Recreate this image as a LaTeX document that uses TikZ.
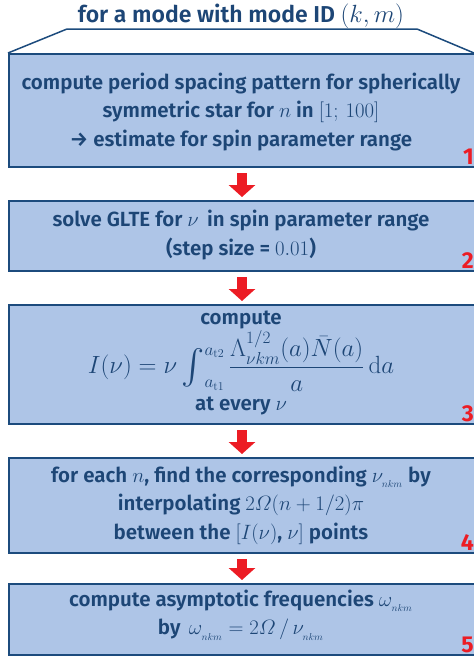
\documentclass[tikz,border=0pt]{standalone}
\usepackage{amsmath}
\usepackage{graphicx}
\usepackage[no-math]{fontspec}
\setmainfont{Fira Sans}[UprightFont={* SemiBold}, BoldFont={* Bold}]
\usetikzlibrary{arrows.meta,calc}
\definecolor{boxfill}{HTML}{AEC5E7}
\definecolor{boxline}{HTML}{1C4B7D}
\definecolor{txt}{HTML}{1D4676}
\definecolor{myred}{HTML}{EC1C24}
\newcommand{\myint}{\mathop{\vcenter{\hbox{\scalebox{1.4}{$\textstyle\int$}}}}\nolimits}
\tikzset{
 stepbox/.style={fill=boxfill, draw=boxline, line width=2pt, minimum width=480pt, anchor=north west, inner sep=0pt},
 steptext/.style={text=txt, align=center, font=\fontsize{20.5}{28.5}\selectfont, inner sep=0pt},
 num/.style={text=myred, font=\fontsize{23}{23}\selectfont\bfseries, anchor=south east, inner sep=0pt},
 redarrow/.style={draw=myred, line width=10pt, -{Triangle[width=26pt,length=12pt]}},
 trap/.style={draw=boxline, line width=1.5pt},
}
\begin{document}
\begin{tikzpicture}[x=1pt,y=-1pt]
\useasboundingbox (0,0) rectangle (474,657);
% title
\node[text=txt, font=\fontsize{23}{26}\selectfont, inner sep=0pt] (title) at (241,16) {for a mode with mode ID $(k,m)$};
% boxes
\node[stepbox, minimum height=113pt] (b1) at (8,53) {};
\node[stepbox, minimum height=70pt] (b2) at (8,200) {};
\node[stepbox, minimum height=119pt] (b3) at (8,304) {};
\node[stepbox, minimum height=95pt] (b4) at (8,457) {};
\node[stepbox, minimum height=71pt] (b5) at (8,583) {};
% trapezoid
\coordinate (tl) at (67,29);
\coordinate (tr) at (417,29);
\coordinate (br) at (474,53);
\draw[trap] (b1.north west) -- (tl) -- (tr) -- (br);
% texts
\node[steptext] (t1) at (241,112) {compute period spacing pattern for spherically\\ symmetric star for $n$ in $[1;\,100]$\\ → estimate for spin parameter range};
\node[steptext] (t2) at (241,235) {solve GLTE for $\nu$\, in spin parameter range\\ (step size = $0.01$)};
\node[steptext] (t3) at (241,320) {compute};
\node[text=txt, inner sep=0pt, font=\fontsize{23}{27}\selectfont] (f3) at (241,361) {$I(\nu) = \nu \myint_{a_{\mathrm{t1}}}^{a_{\mathrm{t2}}} \dfrac{\Lambda^{1/2}_{\nu km}(a)\bar{N}(a)}{a}\,\mathrm{d}a$};
\node[steptext] (t3b) at (241,406) {at every $\nu$};
\node[steptext] (t4) at (241,505) {for each $n$, find the corresponding $\nu_{_{nkm}}$ by\\ interpolating $2\varOmega(n+1/2)\pi$\\ between the $[I(\nu)$, $\nu]$ points};
\node[steptext] (t5) at (241,615) {compute asymptotic frequencies $\omega_{_{nkm}}$\\ by\, $\omega_{_{nkm}} = 2\varOmega\,/\,\nu_{_{nkm}}$};
% numbers
\node[num] (n1) at ([shift={(466,-3)}]b1.south west) {1};
\node[num] (n2) at ([shift={(466,-3)}]b2.south west) {2};
\node[num] (n3) at ([shift={(466,-3)}]b3.south west) {3};
\node[num] (n4) at ([shift={(466,-3)}]b4.south west) {4};
\node[num] (n5) at ([shift={(466,-3)}]b5.south west) {5};
% arrows
\draw[redarrow] ($(t1.center |- b1.south)+(1,5)$) -- ($(t1.center |- b2.north)+(1,-3)$);
\draw[redarrow] ($(t1.center |- b2.south)+(1,5)$) -- ($(t1.center |- b3.north)+(1,-3)$);
\draw[redarrow] ($(t1.center |- b3.south)+(1,5)$) -- ($(t1.center |- b4.north)+(1,-3)$);
\draw[redarrow] ($(t1.center |- b4.south)+(1,5)$) -- ($(t1.center |- b5.north)+(1,-3)$);
\end{tikzpicture}
\end{document}
